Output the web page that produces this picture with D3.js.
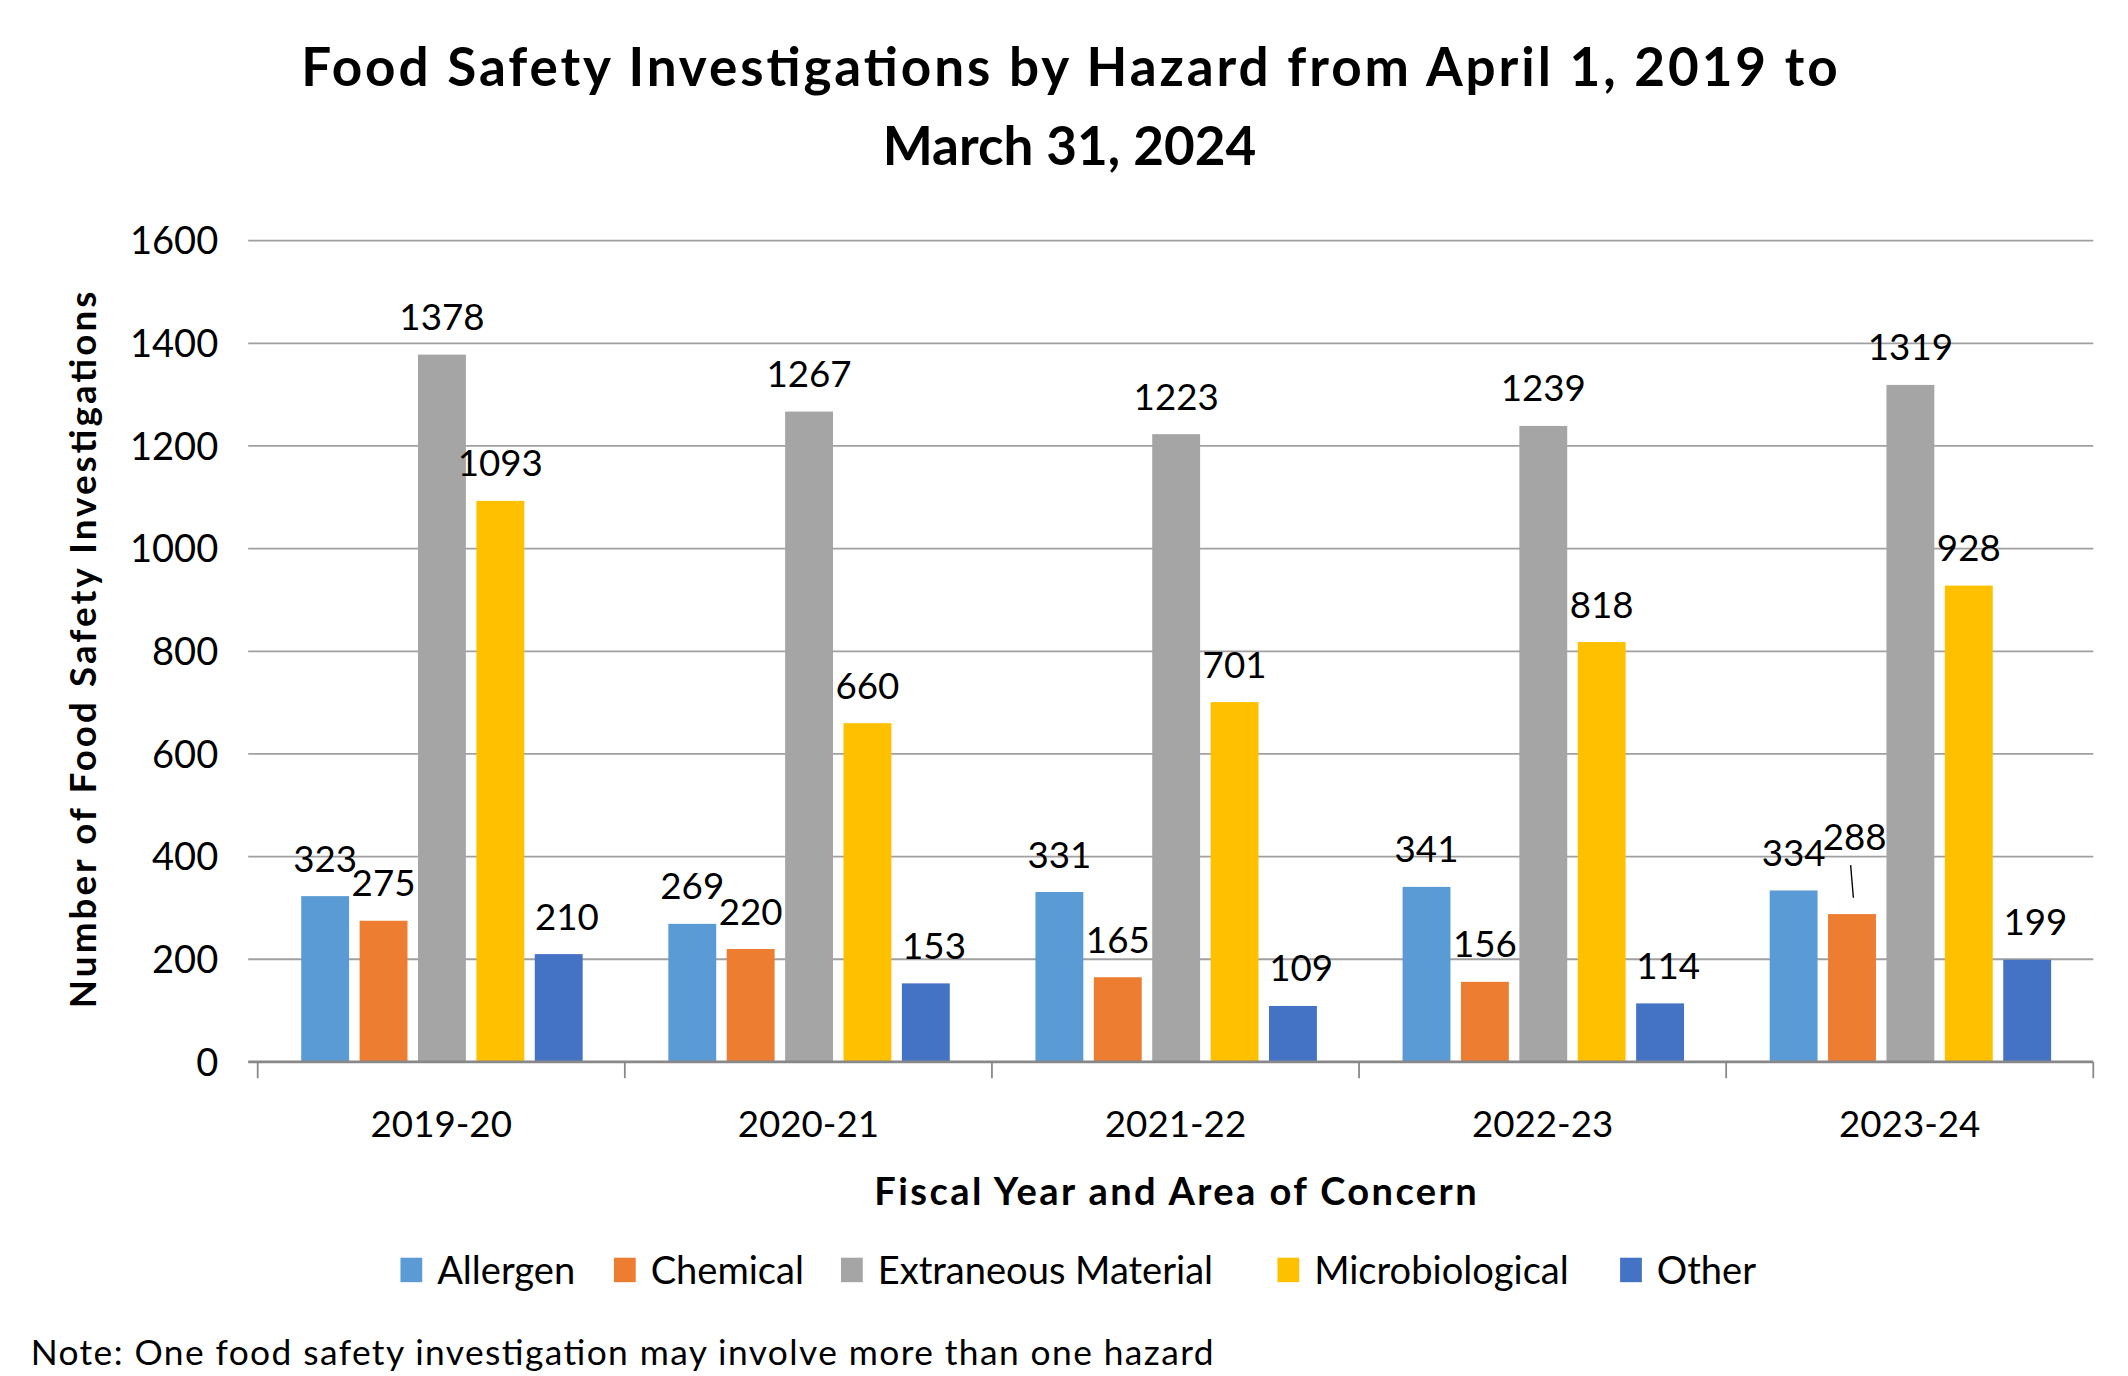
<!DOCTYPE html>
<html><head><meta charset="utf-8">
<script src="https://cdn.jsdelivr.net/npm/d3@7"></script>
<style>body{margin:0;background:#fff}</style></head>
<body><svg id="c" width="2128" height="1376" viewBox="0 0 1560 1012"></svg>
<script>
const categories=["2019-20","2020-21","2021-22","2022-23","2023-24"];
const seriesNames=["Allergen","Chemical","Extraneous Material","Microbiological","Other"];
const colors=["#5B9BD5","#ED7D31","#A5A5A5","#FFC000","#4472C4"];
const allergen=[323,269,331,341,334];
const chemical=[275,220,165,156,288];
const extraneous=[1378,1267,1223,1239,1319];
const micro=[1093,660,701,818,928];
const other=[210,153,109,114,199];
const yTicks=[0,200,400,600,800,1000,1200,1400,1600];
const series=[allergen,chemical,extraneous,micro,other];
const F="Lato, 'Open Sans', sans-serif";
const svg=d3.select("#c");
const x=d3.scaleBand().domain(categories).range([187,1537]);
const xi=d3.scaleBand().domain(d3.range(5)).range([32,239]).paddingInner(0.18);
const y=d3.scaleLinear().domain([0,1600]).range([781,177]);
svg.append("g").selectAll("line").data(yTicks.slice(1)).join("line")
 .attr("x1",180).attr("x2",1537).attr("y1",d=>y(d)).attr("y2",d=>y(d)).attr("stroke","#a0a0a0").attr("stroke-width",1.3);
svg.append("g").selectAll("text").data(yTicks).join("text").attr("x",158).attr("y",d=>y(d)+10)
 .attr("text-anchor","end").attr("font-family",F).attr("font-size",28).text(d=>d);
series.forEach((s,i)=>{
 const g=svg.append("g");
 g.selectAll("rect").data(s).join("rect").attr("x",(d,j)=>x(categories[j])+xi(i)).attr("width",xi.bandwidth())
  .attr("y",d=>y(d)).attr("height",d=>781-y(d)).attr("fill",colors[i]);
 g.selectAll("text").data(s).join("text").attr("x",(d,j)=>x(categories[j])+xi(i)+xi.bandwidth()/2+(i==4?6:0)+(i==1&&j==4?2:0))
  .attr("y",(d,j)=>(i==1&&j==4)?y(d)-47:y(d)-18).attr("text-anchor","middle").attr("font-family",F).attr("font-size",27).text(d=>d);
});
// leader line for 2023-24 Chemical
svg.append("line").attr("x1",x(categories[4])+xi(1)+xi.bandwidth()/2-1).attr("x2",x(categories[4])+xi(1)+xi.bandwidth()/2+1)
 .attr("y1",y(chemical[4])-36).attr("y2",y(chemical[4])-12).attr("stroke","#000").attr("stroke-width",1);
svg.append("line").attr("x1",180).attr("x2",1537).attr("y1",781).attr("y2",781).attr("stroke","#888").attr("stroke-width",2);
svg.append("g").selectAll("line").data(d3.range(6)).join("line").attr("x1",d=>187+270*d).attr("x2",d=>187+270*d)
 .attr("y1",781).attr("y2",793).attr("stroke","#888").attr("stroke-width",1.3);
svg.append("g").selectAll("text").data(categories).join("text").attr("x",d=>x(d)+x.bandwidth()/2).attr("y",836)
 .attr("text-anchor","middle").attr("font-family",F).attr("font-size",27).text(d=>d);
svg.append("text").attr("x",862).attr("y",886).attr("text-anchor","middle").attr("font-family",F).attr("font-weight","bold").attr("font-size",28).attr("textLength",443).text("Fiscal Year and Area of Concern");
svg.append("text").attr("transform","translate(68,478) rotate(-90)").attr("text-anchor","middle").attr("font-family",F).attr("font-weight","bold").attr("font-size",27).attr("textLength",527).text("Number of Food Safety Investigations");
const t=svg.append("text").attr("text-anchor","middle").attr("font-family",F).attr("font-weight","bold").attr("font-size",39);
t.append("tspan").attr("x",784).attr("y",63).attr("textLength",1130).text("Food Safety Investigations by Hazard from April 1, 2019 to");
t.append("tspan").attr("x",784).attr("y",121).text("March 31, 2024");
const lx=[292,449,616,937,1189];
seriesNames.forEach((n,i)=>{
 svg.append("rect").attr("x",lx[i]).attr("y",925).attr("width",16).attr("height",18).attr("fill",colors[i]);
 svg.append("text").attr("x",lx[i]+27).attr("y",944).attr("font-family",F).attr("font-size",28).text(n);
});
svg.append("text").attr("x",20).attr("y",1004).attr("font-family",F).attr("font-size",26).attr("textLength",870).text("Note: One food safety investigation may involve more than one hazard");
</script></body></html>
